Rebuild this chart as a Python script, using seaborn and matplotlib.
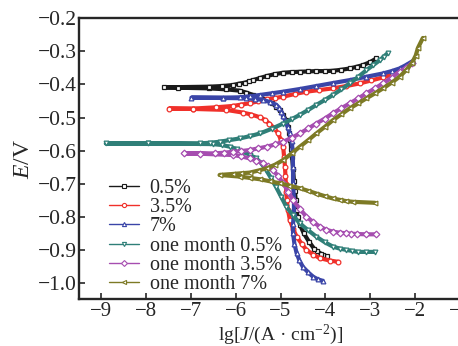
import numpy as np
import pandas as pd
import seaborn as sns
import matplotlib.pyplot as plt
from matplotlib.lines import Line2D
from matplotlib.ticker import MultipleLocator

labels = ["0.5%", "3.5%", "7%", "one month 0.5%", "one month 3.5%", "one month 7%"]
colors = ["#1a1a1a", "#f0302a", "#3a45a8", "#2f7f78", "#a64db0", "#7d7a25"]
markers = ["s", "o", "^", "v", "D", "<"]

# each curve: cathodic end -> corrosion potential -> anodic end
lgj_05 = [-3.96, -4.04, -4.10, -4.18, -4.25, -4.36, -4.48, -4.56, -4.62, -4.64, -4.66, -4.68, -4.70,
          -4.72, -4.74, -4.76, -4.78, -4.80, -4.83, -4.88, -4.94, -5.01, -5.09, -5.20, -5.31, -5.45,
          -5.61, -5.76, -5.91, -6.21, -6.60, -7.29, -7.60,
          -6.60, -6.30, -6.06, -5.93, -5.80, -5.70, -5.61, -5.46, -5.31, -5.12, -4.94, -4.75, -4.57,
          -4.38, -4.20, -4.01, -3.83, -3.64, -3.45, -3.30, -3.16, -3.00, -2.86]
e_05 = [-0.918, -0.915, -0.910, -0.903, -0.895, -0.875, -0.849, -0.825, -0.800, -0.780, -0.749, -0.720, -0.690,
        -0.655, -0.620, -0.595, -0.568, -0.548, -0.528, -0.508, -0.492, -0.478, -0.467, -0.456, -0.447, -0.439,
        -0.432, -0.425, -0.419, -0.415, -0.412, -0.410, -0.409,
        -0.407, -0.405, -0.402, -0.398, -0.395, -0.391, -0.387, -0.381, -0.375, -0.369, -0.365, -0.363, -0.362,
        -0.361, -0.360, -0.360, -0.359, -0.356, -0.352, -0.347, -0.342, -0.333, -0.322]

lgj_35 = [-3.71, -3.90, -4.12, -4.27, -4.42, -4.53, -4.64, -4.72, -4.79, -4.83, -4.86, -4.87, -4.88,
          -4.89, -4.90, -4.92, -4.94, -4.99, -5.05, -5.14, -5.25, -5.35, -5.46, -5.65, -5.84, -6.21,
          -6.95, -7.49,
          -6.95, -6.43, -6.06, -5.88, -5.69, -5.50, -5.31, -5.12, -4.94, -4.68, -4.42, -4.13, -3.83,
          -3.53, -3.23, -2.97, -2.71, -2.52, -2.34]
e_35 = [-0.935, -0.931, -0.924, -0.913, -0.899, -0.880, -0.859, -0.835, -0.809, -0.780, -0.749, -0.725, -0.700,
        -0.675, -0.648, -0.618, -0.588, -0.568, -0.548, -0.532, -0.518, -0.507, -0.499, -0.491, -0.485, -0.477,
        -0.474, -0.473,
        -0.473, -0.469, -0.465, -0.461, -0.457, -0.451, -0.445, -0.441, -0.437, -0.429, -0.422, -0.417, -0.412,
        -0.405, -0.397, -0.388, -0.379, -0.371, -0.362]

lgj_7 = [-4.06, -4.16, -4.27, -4.38, -4.50, -4.58, -4.64, -4.69, -4.72, -4.72, -4.70, -4.70, -4.72,
         -4.72, -4.73, -4.75, -4.79, -4.84, -4.90, -4.94, -4.98, -5.03, -5.09, -5.24, -5.39, -5.57,
         -5.76, -6.28, -6.99,
         -6.28, -5.91, -5.68, -5.46, -5.20, -4.94, -4.57, -4.20, -3.83, -3.45, -3.08, -2.71, -2.52,
         -2.34, -2.20, -2.05]
e_7 = [-0.992, -0.988, -0.980, -0.967, -0.950, -0.930, -0.909, -0.880, -0.849, -0.820, -0.789, -0.745, -0.698,
       -0.650, -0.598, -0.572, -0.548, -0.528, -0.508, -0.495, -0.482, -0.471, -0.462, -0.453, -0.447, -0.444,
       -0.442, -0.441, -0.440,
       -0.440, -0.439, -0.436, -0.432, -0.427, -0.422, -0.414, -0.405, -0.396, -0.387, -0.377, -0.367, -0.360,
       -0.352, -0.342, -0.330]

lgj_1m05 = [-2.89, -3.08, -3.27, -3.40, -3.53, -3.68, -3.83, -4.01, -4.20, -4.38, -4.57, -4.72, -4.87,
            -4.98, -5.10, -5.21, -5.32, -5.43, -5.54, -5.69, -5.84, -5.98, -6.13, -6.30, -6.51, -7.96, -8.90,
            -7.96, -6.80, -6.58, -6.36, -6.14, -5.91, -5.68, -5.46, -5.20, -4.94, -4.75, -4.57, -4.38,
            -4.20, -4.01, -3.83, -3.64, -3.45, -3.26, -3.08, -2.93, -2.78, -2.69, -2.60]
e_1m05 = [-0.905, -0.905, -0.905, -0.902, -0.899, -0.895, -0.889, -0.876, -0.859, -0.840, -0.819, -0.795, -0.769,
          -0.740, -0.709, -0.683, -0.658, -0.638, -0.623, -0.612, -0.603, -0.595, -0.588, -0.583, -0.580, -0.578, -0.578,
          -0.578, -0.578, -0.576, -0.573, -0.568, -0.563, -0.556, -0.548, -0.534, -0.518, -0.505, -0.492, -0.477,
          -0.462, -0.447, -0.432, -0.415, -0.397, -0.377, -0.357, -0.342, -0.327, -0.316, -0.305]

lgj_1m35 = [-2.86, -3.08, -3.30, -3.42, -3.53, -3.68, -3.83, -3.98, -4.12, -4.27, -4.42, -4.57, -4.72,
            -4.83, -4.94, -5.05, -5.17, -5.28, -5.39, -5.54, -5.69, -5.88, -6.06, -6.80, -7.16,
            -6.47, -6.26, -6.06, -5.88, -5.69, -5.50, -5.31, -5.12, -4.94, -4.75, -4.57, -4.38, -4.20,
            -4.01, -3.83, -3.64, -3.45, -3.26, -3.08, -2.89, -2.71, -2.52, -2.34, -2.20, -2.07]
e_1m35 = [-0.852, -0.852, -0.851, -0.850, -0.849, -0.847, -0.844, -0.838, -0.829, -0.815, -0.799, -0.775, -0.749,
          -0.723, -0.698, -0.677, -0.658, -0.647, -0.638, -0.630, -0.623, -0.617, -0.613, -0.609, -0.608,
          -0.608, -0.606, -0.603, -0.601, -0.598, -0.593, -0.588, -0.581, -0.573, -0.561, -0.548, -0.533, -0.518,
          -0.503, -0.487, -0.472, -0.457, -0.442, -0.427, -0.412, -0.397, -0.380, -0.362, -0.350, -0.337]

lgj_1m7 = [-2.89, -3.38, -3.53, -3.68, -3.83, -4.01, -4.20, -4.38, -4.57, -4.80, -5.02, -5.24, -5.46,
           -5.68, -5.91, -6.36,
           -6.06, -5.88, -5.69, -5.50, -5.31, -5.12, -4.94, -4.75, -4.57, -4.38, -4.20, -4.01, -3.83,
           -3.64, -3.45, -3.26, -3.08, -2.89, -2.71, -2.52, -2.34, -2.20, -2.07, -1.98, -1.93, -1.82]
e_1m7 = [-0.757, -0.754, -0.752, -0.748, -0.744, -0.737, -0.729, -0.721, -0.713, -0.705, -0.698, -0.692, -0.686,
         -0.682, -0.678, -0.673,
         -0.670, -0.668, -0.666, -0.660, -0.653, -0.642, -0.628, -0.608, -0.588, -0.568, -0.548, -0.528, -0.508,
         -0.490, -0.472, -0.457, -0.442, -0.427, -0.412, -0.395, -0.377, -0.358, -0.337, -0.313, -0.290, -0.260]

curves = [(lgj_05, e_05), (lgj_35, e_35), (lgj_7, e_7),
          (lgj_1m05, e_1m05), (lgj_1m35, e_1m35), (lgj_1m7, e_1m7)]

frames = []
for name, (xs, ys) in zip(labels, curves):
    frames.append(pd.DataFrame({"lgJ": xs, "E": ys, "curve": name}))
df = pd.concat(frames, ignore_index=True)

sns.set_theme(style="ticks")
plt.rcParams["font.family"] = ["Liberation Serif", "DejaVu Serif"]
plt.rcParams["mathtext.fontset"] = "custom"
plt.rcParams["mathtext.rm"] = "Liberation Serif"
plt.rcParams["mathtext.it"] = "Liberation Serif:italic"

fig = plt.figure(figsize=(4.58, 3.46), dpi=100)
ax = fig.add_axes([0.1725, 0.1358, 0.8799, 0.8121])

sns.lineplot(data=df, x="lgJ", y="E", hue="curve", style="curve", hue_order=labels,
             style_order=labels, palette=colors, markers=markers, dashes=False, sort=False,
             estimator=None, units="curve", lw=3.0, markersize=3.4, legend=False, ax=ax)
for line in ax.lines:
    line.set_markeredgecolor(line.get_color())
    line.set_markerfacecolor("white")
    line.set_markeredgewidth(0.9)

ax.set_xlim(-9.5, -0.5)
ax.set_ylim(-1.047, -0.2)
ax.xaxis.set_major_locator(MultipleLocator(1))
ax.yaxis.set_major_locator(MultipleLocator(0.1))
ax.tick_params(direction="in", length=4, width=1.2, labelsize=15.5)
ax.tick_params(axis="x", labelsize=15, pad=2.5)
ax.tick_params(axis="y", pad=1.5)
for side in ["left", "bottom", "top", "right"]:
    ax.spines[side].set_linewidth(1.7)
ax.set_xlabel(r"lg[$J$/(A · cm$^{-2}$)]", fontsize=14, labelpad=0.5)
ax.set_ylabel(r"$E$/V", fontsize=17, labelpad=3)

handles = [Line2D([], [], color=c, marker=m, markersize=3, mfc="white", mec=c, mew=0.8, lw=1.0)
           for c, m in zip(colors, markers)]
ax.legend(handles, labels, loc="lower left", bbox_to_anchor=(0.055, -0.01), frameon=False,
          fontsize=14.5, handlelength=1.5, handletextpad=0.5, labelspacing=0.0, borderaxespad=0)

fig.savefig("out.png", dpi=100)
